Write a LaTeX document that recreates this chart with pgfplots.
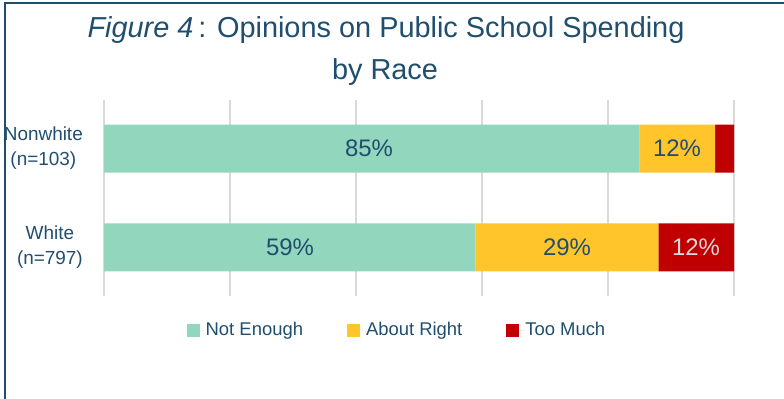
\documentclass[border=0pt]{standalone}
\usepackage{pgfplots}
\pgfplotsset{compat=1.18}
\usepackage{fontspec}
\setmainfont{Liberation Sans}
\definecolor{teal1}{HTML}{92D6BE}
\definecolor{yel1}{HTML}{FFC52B}
\definecolor{red1}{HTML}{C00000}
\definecolor{navy1}{HTML}{1F4E6E}
\definecolor{lgray}{HTML}{D9D9D9}
\pgfplotstableread{
cat notenough aboutright toomuch
0 85 12 3
1 59 29 12
}\datatable
\begin{document}
\begin{tikzpicture}[x=1bp,y=1bp]
\useasboundingbox (0,0) rectangle (784,398);
\draw[navy1, line width=2bp] (4.5,-5) -- (4.5,395) -- (790,395);
\node[anchor=base, text=navy1, font=\fontsize{29}{34}\selectfont, inner sep=0pt] at (386,361) {\textit{Figure 4}\,: Opinions on Public School Spending};
\node[anchor=base, text=navy1, font=\fontsize{29}{34}\selectfont, inner sep=0pt] at (385,319) {by Race};
\begin{axis}[
  at={(104bp,102bp)}, anchor=south west,
  scale only axis, width=630bp, height=196bp,
  xbar stacked, bar width=48bp,
  xmin=0, xmax=100, ymin=-0.49, ymax=1.49,
  y dir=reverse,
  ytick={0,1},
  yticklabels={{Nonwhite\\(n=103)},{White\\(n=797)}},
  yticklabel style={align=center, text=navy1, font=\fontsize{19}{25}\selectfont, inner sep=0pt, xshift=-21bp},
  xtick={0,20,40,60,80,100}, xticklabels={},
  xmajorgrids, grid style={color=lgray, line width=1.5bp},
  axis line style={draw=none},
  major tick length=0pt,
  legend columns=-1,
  legend style={at={(0.465,-0.1735)}, anchor=center, draw=none, fill=none,
    font=\fontsize{18.5}{22}\selectfont, text=navy1,
    /tikz/every even column/.append style={column sep=42bp},
    /tikz/every odd column/.append style={column sep=0bp}},
  myleg/.style={legend image code/.code={\fill[##1] (0bp,-6.5bp) rectangle (13bp,6.5bp); \path (0bp,0bp) -- (17bp,0bp);}},
]
\addplot[fill=teal1, draw=none, myleg] table[x=notenough, y=cat] {\datatable};
\addplot[fill=yel1, draw=none, myleg] table[x=aboutright, y=cat] {\datatable};
\addplot[fill=red1, draw=none, myleg] table[x=toomuch, y=cat] {\datatable};
\legend{Not Enough, About Right, Too Much}
\end{axis}
\begin{scope}[every node/.style={font=\fontsize{24}{28}\selectfont, text=navy1}]
\node at (369,249.5) {85\%};
\node at (677,249.5) {12\%};
\node at (290,150.5) {59\%};
\node at (567,150.5) {29\%};
\node[text=lgray] at (696,150.5) {12\%};
\end{scope}
\end{tikzpicture}
\end{document}
